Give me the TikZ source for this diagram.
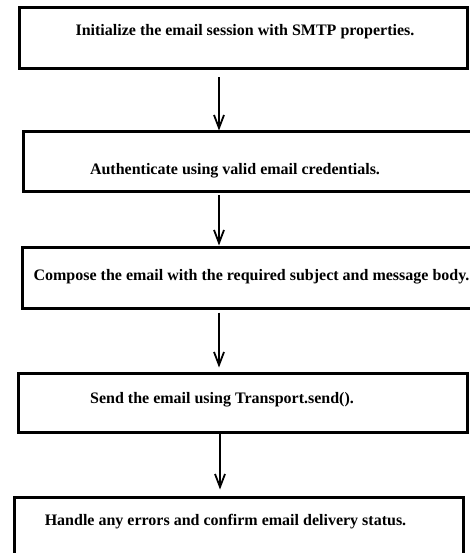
\documentclass[tikz,border=0pt]{standalone}
\usepackage{fontspec}
\setmainfont{Liberation Serif}
\usetikzlibrary{arrows.meta,calc}
\begin{document}
\begin{tikzpicture}[x=1pt,y=-1pt,
  stepbox/.style={draw=black,line width=3pt,minimum width=#1,inner sep=0pt},
  steptext/.style={font=\fontsize{16}{19}\selectfont\bfseries,inner sep=0pt,text=black},
  arr/.style={line width=1.6pt,-{Straight Barb[length=13pt,width=10pt,line width=1.8pt]}}]
\useasboundingbox[fill=white] (0,0) rectangle (470,553);
% boxes
\node[stepbox=448pt,minimum height=61pt] (b1) at (243,38.5) {};
\node[stepbox=449pt,minimum height=60pt] (b2) at (247.5,162) {};
\node[stepbox=450pt,minimum height=61pt] (b3) at (247,277.5) {};
\node[stepbox=449pt,minimum height=59pt] (b4) at (242.5,402.5) {};
\node[stepbox=449pt,minimum height=63pt] (b5) at (238.5,528.5) {};
% texts
\node[steptext] (t1) at (245,32) {Initialize the email session with SMTP properties.};
\node[steptext] (t2) at (235,171) {Authenticate using valid email credentials.};
\node[steptext] (t3) at (251.5,277) {Compose the email with the required subject and message body.};
\node[steptext] (t4) at (222,400) {Send the email using Transport.send().};
\node[steptext] (t5) at (225.5,522) {Handle any errors and confirm email delivery status.};
% arrows
\coordinate (ax) at (219,0);
\coordinate (bx) at (220,0);
\draw[arr,shorten <=7pt] (b1.south -| ax) -- (b2.north -| ax);
\draw[arr,shorten <=2pt] (b2.south -| ax) -- (b3.north -| ax);
\draw[arr,shorten <=3pt,shorten >=4pt] (b3.south -| ax) -- (b4.north -| ax);
\draw[arr,shorten >=6pt] (b4.south -| bx) -- (b5.north -| bx);
\end{tikzpicture}
\end{document}
